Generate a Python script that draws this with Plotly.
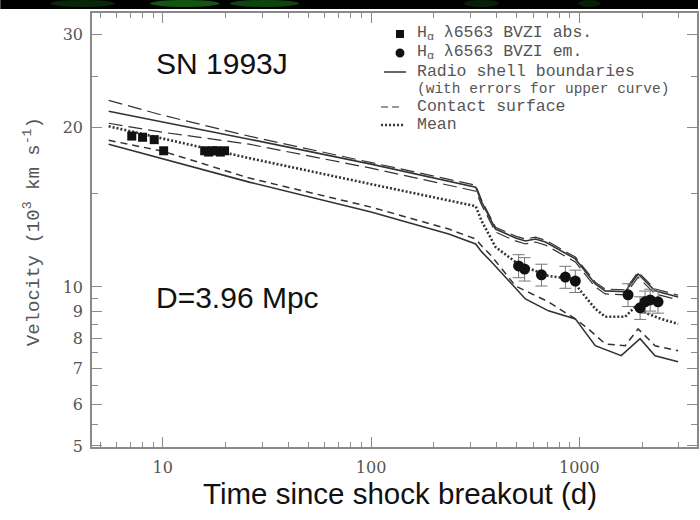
import plotly.graph_objects as go

# ---------------- data (days, 10^3 km/s) ----------------
abs_t = [7.1, 8.0, 9.1, 10.1, 15.9, 16.6, 17.3, 18.1, 18.9, 19.8]
abs_v = [19.3, 19.2, 19.0, 18.1, 18.1, 18.0, 18.1, 18.1, 18.0, 18.1]

em_t = [511, 546, 658, 857, 957, 1714, 1958, 2068, 2188, 2388]
em_v = [10.96, 10.81, 10.54, 10.44, 10.26, 9.66, 9.13, 9.37, 9.45, 9.37]
em_err = [0.55, 0.55, 0.50, 0.50, 0.50, 0.48, 0.45, 0.45, 0.45, 0.45]

# upper radio-shell boundary (solid)
up_t = [5.5, 10, 26, 100, 318, 340, 396, 494, 551, 616, 688, 957, 1193, 1332, 1660, 1915, 2310, 2980]
up_v = [21.50, 20.54, 19.04, 17.08, 15.45, 14.47, 12.87, 12.38, 12.22, 12.32, 12.16, 11.30, 10.13, 9.83, 9.79, 10.58, 9.83, 9.57]
# errors of upper curve (long dashes)
uphi_v = [22.55, 21.13, 19.29, 17.22, 15.58, 14.58, 12.97, 12.48, 12.32, 12.42, 12.26, 11.39, 10.21, 9.91, 9.87, 10.67, 9.91, 9.65]
uplo_v = [20.41, 19.62, 18.63, 16.78, 15.18, 14.28, 12.70, 12.22, 12.06, 12.16, 12.00, 11.15, 10.00, 9.70, 9.66, 10.44, 9.70, 9.45]

# mean (dotted)
mean_t = [5.5, 10, 26, 100, 318, 340, 396, 494, 551, 711, 916, 1022, 1193, 1332, 1660, 1853, 2138, 2468, 2980]
mean_v = [20.14, 19.08, 17.53, 15.65, 14.22, 13.32, 11.90, 11.15, 10.91, 10.49, 10.35, 9.79, 9.09, 8.78, 8.78, 9.17, 8.89, 8.70, 8.51]

# contact surface (dashed)
cs_t = [5.5, 10, 26, 100, 236, 318, 340, 379, 494, 711, 957, 1104, 1332, 1660, 1915, 2310, 2980]
cs_v = [18.95, 18.07, 16.07, 14.16, 12.87, 12.32, 11.95, 11.44, 10.04, 9.37, 8.70, 8.33, 7.80, 7.74, 8.33, 7.74, 7.57]

# lower radio-shell boundary (solid)
lo_t = [5.5, 10, 26, 100, 236, 318, 340, 379, 551, 711, 957, 1193, 1589, 1958, 2310, 2980]
lo_v = [18.63, 17.47, 15.79, 13.86, 12.59, 12.06, 11.65, 11.15, 9.49, 9.01, 8.70, 7.74, 7.41, 7.98, 7.41, 7.22]

x_major = [10, 100, 1000]
x_major_text = ["10", "100", "1000"]
x_minor = [5, 6, 7, 8, 9, 20, 30, 40, 50, 60, 70, 80, 90, 200, 300, 400, 500, 600, 700, 800, 900, 2000, 3000]
y_major = [5, 6, 7, 8, 9, 10, 20, 30]
y_major_text = ["5", "6", "7", "8", "9", "10", "20", "30"]
y_minor = [5.5, 6.5, 7.5, 8.5, 9.5, 15, 25]

# ---------------- layout geometry ----------------
W, H = 700, 520
ML, MR, MT, MB = 92, 1, 13, 73
PW, PH = W - ML - MR, H - MT - MB


def px(x):
    return (x - ML) / PW


def py(y):
    return (H - MB - y) / PH


LINE = "#333333"
fig = go.Figure()

fig.add_trace(go.Scatter(x=up_t, y=uphi_v, mode="lines", line=dict(color=LINE, width=1.2, dash="14px,6px")))
fig.add_trace(go.Scatter(x=up_t, y=uplo_v, mode="lines", line=dict(color=LINE, width=1.2, dash="14px,6px")))
fig.add_trace(go.Scatter(x=up_t, y=up_v, mode="lines", line=dict(color=LINE, width=1.6)))
fig.add_trace(go.Scatter(x=mean_t, y=mean_v, mode="lines", line=dict(color=LINE, width=2.6, dash="2px,2px")))
fig.add_trace(go.Scatter(x=cs_t, y=cs_v, mode="lines", line=dict(color=LINE, width=1.5, dash="7px,5px")))
fig.add_trace(go.Scatter(x=lo_t, y=lo_v, mode="lines", line=dict(color=LINE, width=1.6)))

fig.add_trace(go.Scatter(x=abs_t, y=abs_v, mode="markers",
                         marker=dict(symbol="square", size=9, color="#111111")))
fig.add_trace(go.Scatter(x=em_t, y=em_v, mode="markers",
                         error_y=dict(type="data", array=em_err, color="#777777", thickness=1, width=6),
                         marker=dict(symbol="circle", size=11, color="#111111")))

axis_common = dict(showline=True, linecolor="#8a8a8a", linewidth=1.5, mirror="ticks",
                   ticks="inside", tickcolor="#8a8a8a", tickwidth=1.2, ticklen=10,
                   showgrid=False, zeroline=False,
                   tickfont=dict(family="DejaVu Serif", size=16, color="#555555"))

fig.update_xaxes(type="log", range=[0.6603, 3.565], tickvals=x_major, ticktext=x_major_text,
                 minor=dict(tickvals=x_minor, ticks="inside", ticklen=5, tickcolor="#8a8a8a", tickwidth=1.2),
                 ticklabelstandoff=5, **axis_common)
fig.update_yaxes(type="log", range=[0.697, 1.5185], tickvals=y_major, ticktext=y_major_text,
                 minor=dict(tickvals=y_minor, ticks="inside", ticklen=6, tickcolor="#8a8a8a", tickwidth=1.2),
                 ticklabelstandoff=4, **axis_common)

shapes = []
# black strip with dim green at the very top
shapes.append(dict(type="rect", xref="paper", yref="paper", x0=px(0), x1=px(700), y0=py(9), y1=py(0),
                   fillcolor="#000000", line=dict(width=0), layer="above"))
for (xa, xb, op) in [(50, 115, 0.25), (150, 220, 0.55), (230, 300, 0.45), (465, 500, 0.2), (580, 602, 0.2)]:
    shapes.append(dict(type="circle", xref="paper", yref="paper", x0=px(xa), x1=px(xb), y0=py(7), y1=py(0),
                       fillcolor="#1f9a1f", opacity=op, line=dict(width=0), layer="above"))

# legend symbols
shapes.append(dict(type="rect", xref="paper", yref="paper", x0=px(397), x1=px(405), y0=py(38), y1=py(30),
                   fillcolor="#111111", line=dict(width=0)))
shapes.append(dict(type="circle", xref="paper", yref="paper", x0=px(396.5), x1=px(405.5), y0=py(57.5), y1=py(48.5),
                   fillcolor="#111111", line=dict(width=0)))
shapes.append(dict(type="line", xref="paper", yref="paper", x0=px(385), x1=px(407), y0=py(72), y1=py(72),
                   line=dict(color=LINE, width=1.5)))
shapes.append(dict(type="line", xref="paper", yref="paper", x0=px(382), x1=px(404), y0=py(107), y1=py(107),
                   line=dict(color="#777777", width=1.5, dash="7px,4px")))
shapes.append(dict(type="line", xref="paper", yref="paper", x0=px(382), x1=px(405), y0=py(125), y1=py(125),
                   line=dict(color=LINE, width=2.4, dash="2px,2px")))

MONO = "Liberation Mono"
GREY = "#555555"
ann = []


def leg(text, y, size=16.5):
    ann.append(dict(text=text, xref="paper", yref="paper", x=px(416), y=py(y), xanchor="left",
                    yanchor="middle", showarrow=False, font=dict(family=MONO, size=size, color=GREY)))


leg("H<sub>α</sub> λ6563 BVZI abs.", 33)
leg("H<sub>α</sub> λ6563 BVZI em.", 52)
leg("Radio shell boundaries", 71)
leg("(with errors for upper curve)", 88.5, 14.5)
leg("Contact surface", 106)
leg("Mean", 124.5)

ann.append(dict(text="SN 1993J", xref="paper", yref="paper", x=px(154), y=py(64), xanchor="left",
                yanchor="middle", showarrow=False, font=dict(family="Liberation Sans", size=30, color="#111111")))
ann.append(dict(text="D=3.96 Mpc", xref="paper", yref="paper", x=px(154), y=py(297), xanchor="left",
                yanchor="middle", showarrow=False, font=dict(family="Liberation Sans", size=30, color="#111111")))
ann.append(dict(text="Time since shock breakout (d)", xref="paper", yref="paper", x=px(401), y=py(493),
                xanchor="center", yanchor="middle", showarrow=False,
                font=dict(family="Liberation Sans", size=29.5, color="#111111")))
ann.append(dict(text="Velocity (10<sup>3</sup> km s<sup>-1</sup>)", xref="paper", yref="paper", x=px(32), y=py(232),
                xanchor="center", yanchor="middle", textangle=-90, showarrow=False,
                font=dict(family=MONO, size=19, color=GREY)))

fig.update_layout(width=W, height=H, margin=dict(l=ML, r=MR, t=MT, b=MB),
                  paper_bgcolor="white", plot_bgcolor="white", showlegend=False,
                  shapes=shapes, annotations=ann)

fig.write_html("out.html")
